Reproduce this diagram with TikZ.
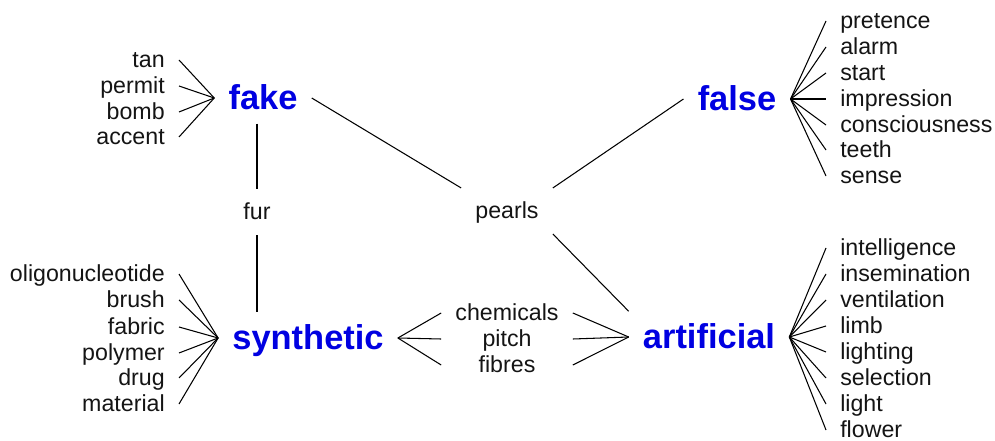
\documentclass[tikz,border=0pt]{standalone}
\usepackage{fontspec}
\setmainfont{Liberation Sans}
\definecolor{hubblue}{RGB}{0,0,225}
\definecolor{inkgray}{RGB}{20,20,20}
\tikzset{word/.style={font=\fontsize{16.5}{19}\selectfont,text=inkgray,text height=13.3pt,text depth=2pt,inner xsep=3.5mm,inner ysep=3mm},
         hub/.style={font=\fontsize{24.5}{28}\selectfont\bfseries,text=hubblue,text height=19pt,text depth=3pt,inner xsep=3.5mm,inner ysep=2.5mm},
         link/.style={draw=black,line width=0.75pt}}
\begin{document}
\begin{tikzpicture}[x=0.25mm,y=-0.25mm]
          \useasboundingbox (0,0) rectangle (995,441);
          \node [hub] (fake) at (263,98){fake};
          \node [hub] (false) at (737,99){false};
          \node [hub] (synthetic) at (308,338){synthetic};
          \node [hub] (artificial) at (709,337){artificial};
          \node [word] (fur) at (257,212){fur};
          \node [word] (pearls) at (507,211){pearls};
          \node [word] (chemicals) at (507,313){chemicals};
          \node [word] (pitch) at (507,339){pitch};
          \node [word] (fibres) at (507,365){fibres};
          \node [word,anchor=east] (tan) at (179,60){tan};
          \node [word,anchor=east] (permit) at (179,86){permit};
          \node [word,anchor=east] (bomb) at (179,112){bomb};
          \node [word,anchor=east] (accent) at (179,137){accent};
          \node [word,anchor=west] (pretence) at (826,21){pretence};
          \node [word,anchor=west] (alarm) at (826,47){alarm};
          \node [word,anchor=west] (start) at (826,73){start};
          \node [word,anchor=west] (impression) at (826,99){impression};
          \node [word,anchor=west] (conscious) at (826,125){consciousness};
          \node [word,anchor=west] (teeth) at (826,150){teeth};
          \node [word,anchor=west] (sense) at (826,176){sense};
          \node [word,anchor=east] (oligo) at (179,274){oligonucleotide};
          \node [word,anchor=east] (brush) at (179,300){brush};
          \node [word,anchor=east] (fabric) at (179,327){fabric};
          \node [word,anchor=east] (polymer) at (179,353){polymer};
          \node [word,anchor=east] (drug) at (179,378){drug};
          \node [word,anchor=east] (material) at (179,404){material};
          \node [word,anchor=west] (intelligence) at (826,248){intelligence};
          \node [word,anchor=west] (insemination) at (826,274){insemination};
          \node [word,anchor=west] (ventilation) at (826,300){ventilation};
          \node [word,anchor=west] (limb) at (826,326){limb};
          \node [word,anchor=west] (lighting) at (826,352){lighting};
          \node [word,anchor=west] (selection) at (826,378){selection};
          \node [word,anchor=west] (light) at (826,404){light};
          \node [word,anchor=west] (flower) at (826,430){flower};
          \draw [link] (tan.east)--(fake.west);
          \draw [link] (permit.east)--(fake.west);
          \draw [link] (bomb.east)--(fake.west);
          \draw [link] (accent.east)--(fake.west);
          \draw [link] (false.east)--(pretence.west);
          \draw [link] (false.east)--(alarm.west);
          \draw [link] (false.east)--(start.west);
          \draw [link] (false.east)--(impression.west);
          \draw [link] (false.east)--(conscious.west);
          \draw [link] (false.east)--(teeth.west);
          \draw [link] (false.east)--(sense.west);
          \draw [link] (oligo.east)--(synthetic.west);
          \draw [link] (brush.east)--(synthetic.west);
          \draw [link] (fabric.east)--(synthetic.west);
          \draw [link] (polymer.east)--(synthetic.west);
          \draw [link] (drug.east)--(synthetic.west);
          \draw [link] (material.east)--(synthetic.west);
          \draw [link] (artificial.east)--(intelligence.west);
          \draw [link] (artificial.east)--(insemination.west);
          \draw [link] (artificial.east)--(ventilation.west);
          \draw [link] (artificial.east)--(limb.west);
          \draw [link] (artificial.east)--(lighting.west);
          \draw [link] (artificial.east)--(selection.west);
          \draw [link] (artificial.east)--(light.west);
          \draw [link] (artificial.east)--(flower.west);
          \draw [link] (fake.south -| fur.north)--(fur.north);
          \draw [link] (fur.south)--(synthetic.north -| fur.south);
          \draw [link] (fake.east)--(pearls.north west);
          \draw [link] (false.west)--(pearls.north east);
          \draw [link] (pearls.south east)--(artificial.north west);
          \draw [link] (synthetic.east)--(chemicals.west);
          \draw [link] (synthetic.east)--(pitch.west -| chemicals.west);
          \draw [link] (synthetic.east)--(fibres.west -| chemicals.west);
          \draw [link] (chemicals.east)--(artificial.west);
          \draw [link] (pitch.east -| chemicals.east)--(artificial.west);
          \draw [link] (fibres.east -| chemicals.east)--(artificial.west);
        \end{tikzpicture}
\end{document}
